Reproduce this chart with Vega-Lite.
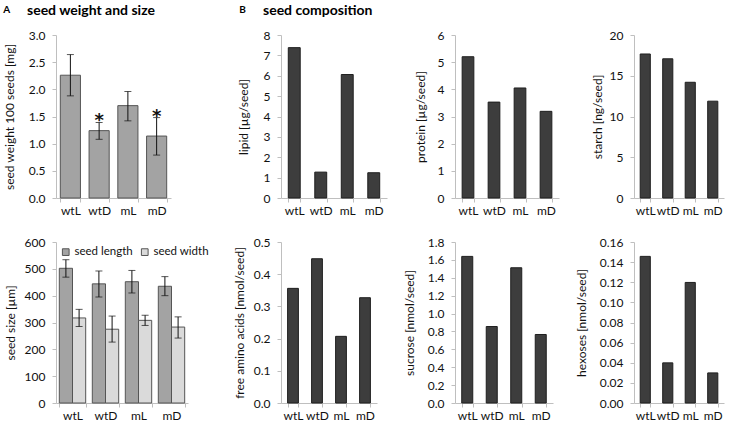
{
  "$schema": "https://vega.github.io/schema/vega-lite/v6.json",
  "padding": {"left": 3, "top": 4, "right": 2, "bottom": 2},
  "background": "white",
  "spacing": 24,
  "hconcat": [
    {
      "title": {"text": "A", "anchor": "start", "frame": "bounds", "fontSize": 10, "offset": 0, "dy": 11},
      "spacing": 20,
      "resolve": {"legend": {"color": "independent"}, "scale": {"color": "independent"}},
      "vconcat": [
        {
          "width": 115,
          "height": 163,
          "title": {"text": "seed weight and size", "anchor": "start", "frame": "group", "dx": -29, "fontSize": 14, "offset": 11},
          "data": {"values": [
            {"g": "wtL", "v": 2.26, "lo": 1.88, "hi": 2.64, "star": ""},
            {"g": "wtD", "v": 1.24, "lo": 1.08, "hi": 1.39, "star": "*"},
            {"g": "mL", "v": 1.70, "lo": 1.42, "hi": 1.96, "star": ""},
            {"g": "mD", "v": 1.14, "lo": 0.79, "hi": 1.48, "star": "*"}
          ]},
          "encoding": {
            "x": {"field": "g", "type": "nominal", "sort": ["wtL", "wtD", "mL", "mD"], "scale": {"paddingInner": 0.3, "paddingOuter": 0.15}, "axis": {"title": null}}
          },
          "layer": [
            {
              "mark": {"type": "bar", "color": "#a3a3a3", "stroke": "#555555", "strokeWidth": 1},
              "encoding": {"y": {"field": "v", "type": "quantitative", "scale": {"domain": [0, 3], "nice": false}, "axis": {"values": [0, 0.5, 1, 1.5, 2, 2.5, 3], "format": ".1f", "title": "seed weight 100 seeds [mg]", "titlePadding": 12}}}
            },
            {
              "mark": {"type": "rule", "color": "#111111", "strokeWidth": 1},
              "encoding": {"y": {"field": "lo", "type": "quantitative", "axis": {"values": [0, 0.5, 1, 1.5, 2, 2.5, 3], "format": ".1f", "title": "seed weight 100 seeds [mg]", "titlePadding": 12}}, "y2": {"field": "hi"}}
            },
            {
              "mark": {"type": "tick", "color": "#111111", "thickness": 1, "size": 7},
              "encoding": {"y": {"field": "lo", "type": "quantitative", "axis": {"values": [0, 0.5, 1, 1.5, 2, 2.5, 3], "format": ".1f", "title": "seed weight 100 seeds [mg]", "titlePadding": 12}}}
            },
            {
              "mark": {"type": "tick", "color": "#111111", "thickness": 1, "size": 7},
              "encoding": {"y": {"field": "hi", "type": "quantitative", "axis": {"values": [0, 0.5, 1, 1.5, 2, 2.5, 3], "format": ".1f", "title": "seed weight 100 seeds [mg]", "titlePadding": 12}}}
            },
            {
              "mark": {"type": "text", "fontSize": 18, "fontWeight": "bold", "baseline": "alphabetic", "dy": 4, "color": "#111111", "font": "DejaVu Sans"},
              "encoding": {"y": {"field": "hi", "type": "quantitative", "axis": {"values": [0, 0.5, 1, 1.5, 2, 2.5, 3], "format": ".1f", "title": "seed weight 100 seeds [mg]", "titlePadding": 12}}, "text": {"field": "star"}}
            }
          ]
        },
        {
          "width": 132,
          "height": 161,
          "data": {"values": [
            {"g": "wtL", "m": "seed length", "v": 502, "lo": 469, "hi": 534},
            {"g": "wtL", "m": "seed width", "v": 317, "lo": 285, "hi": 349},
            {"g": "wtD", "m": "seed length", "v": 444, "lo": 395, "hi": 492},
            {"g": "wtD", "m": "seed width", "v": 275, "lo": 227, "hi": 324},
            {"g": "mL", "m": "seed length", "v": 452, "lo": 410, "hi": 494},
            {"g": "mL", "m": "seed width", "v": 308, "lo": 289, "hi": 327},
            {"g": "mD", "m": "seed length", "v": 435, "lo": 400, "hi": 471},
            {"g": "mD", "m": "seed width", "v": 283, "lo": 242, "hi": 321}
          ]},
          "encoding": {
            "x": {"field": "g", "type": "nominal", "sort": ["wtL", "wtD", "mL", "mD"], "scale": {"paddingInner": 0.2, "paddingOuter": 0.1}, "axis": {"title": null}},
            "xOffset": {"field": "m", "type": "nominal", "scale": {"paddingInner": 0, "paddingOuter": 0}}
          },
          "layer": [
            {
              "mark": {"type": "bar", "stroke": "#555555", "strokeWidth": 1},
              "encoding": {
                "y": {"field": "v", "type": "quantitative", "scale": {"domain": [0, 600], "nice": false}, "axis": {"values": [0, 100, 200, 300, 400, 500, 600], "title": "seed size [µm]", "titlePadding": 7}},
                "color": {"field": "m", "type": "nominal", "scale": {"domain": ["seed length", "seed width"], "range": ["#a3a3a3", "#dadada"]}, "legend": {"title": null, "orient": "top-left", "direction": "horizontal", "offset": 4, "symbolType": "square", "symbolSize": 45, "symbolStrokeColor": "#555555", "symbolStrokeWidth": 1, "labelFontSize": 11.5, "labelFont": "Lato", "labelColor": "#111111", "columnPadding": 6, "labelOffset": 3}}
              }
            },
            {
              "mark": {"type": "rule", "color": "#111111", "strokeWidth": 1},
              "encoding": {"y": {"field": "lo", "type": "quantitative", "axis": {"values": [0, 100, 200, 300, 400, 500, 600], "title": "seed size [µm]", "titlePadding": 7}}, "y2": {"field": "hi"}}
            },
            {
              "mark": {"type": "tick", "color": "#111111", "thickness": 1, "size": 7},
              "encoding": {"y": {"field": "lo", "type": "quantitative", "axis": {"values": [0, 100, 200, 300, 400, 500, 600], "title": "seed size [µm]", "titlePadding": 7}}}
            },
            {
              "mark": {"type": "tick", "color": "#111111", "thickness": 1, "size": 7},
              "encoding": {"y": {"field": "hi", "type": "quantitative", "axis": {"values": [0, 100, 200, 300, 400, 500, 600], "title": "seed size [µm]", "titlePadding": 7}}}
            }
          ]
        }
      ]
    },
    {
      "title": {"text": "B", "anchor": "start", "frame": "bounds", "fontSize": 10, "offset": 0, "dy": 11, "dx": 6},
      "columns": 3,
      "align": "each",
      "spacing": {"row": 20, "column": 16},
      "concat": [
        {
          "width": 106,
          "height": 163,
          "title": {"text": "seed composition", "anchor": "start", "frame": "group", "dx": -18, "fontSize": 14, "offset": 11},
          "data": {"values": [{"g": "wtL", "v": 7.38}, {"g": "wtD", "v": 1.27}, {"g": "mL", "v": 6.06}, {"g": "mD", "v": 1.24}]},
          "mark": {"type": "bar", "color": "#3d3d3d", "stroke": "#1f1f1f", "strokeWidth": 1},
          "encoding": {
            "x": {"field": "g", "type": "nominal", "sort": ["wtL", "wtD", "mL", "mD"], "scale": {"paddingInner": 0.55, "paddingOuter": 0.275}, "axis": {"title": null}},
            "y": {"field": "v", "type": "quantitative", "scale": {"domain": [0, 8], "nice": false}, "axis": {"values": [0, 1, 2, 3, 4, 5, 6, 7, 8], "title": "lipid [µg/seed]", "titlePadding": 13}}
          }
        },
        {
          "width": 104,
          "height": 163,
          "data": {"values": [{"g": "wtL", "v": 5.2}, {"g": "wtD", "v": 3.53}, {"g": "mL", "v": 4.05}, {"g": "mD", "v": 3.19}]},
          "mark": {"type": "bar", "color": "#3d3d3d", "stroke": "#1f1f1f", "strokeWidth": 1},
          "encoding": {
            "x": {"field": "g", "type": "nominal", "sort": ["wtL", "wtD", "mL", "mD"], "scale": {"paddingInner": 0.55, "paddingOuter": 0.275}, "axis": {"title": null}},
            "y": {"field": "v", "type": "quantitative", "scale": {"domain": [0, 6], "nice": false}, "axis": {"values": [0, 1, 2, 3, 4, 5, 6], "title": "protein [µg/seed]", "titlePadding": 10}}
          }
        },
        {
          "width": 90,
          "height": 163,
          "data": {"values": [{"g": "wtL", "v": 17.67}, {"g": "wtD", "v": 17.08}, {"g": "mL", "v": 14.2}, {"g": "mD", "v": 11.88}]},
          "mark": {"type": "bar", "color": "#3d3d3d", "stroke": "#1f1f1f", "strokeWidth": 1},
          "encoding": {
            "x": {"field": "g", "type": "nominal", "sort": ["wtL", "wtD", "mL", "mD"], "scale": {"paddingInner": 0.55, "paddingOuter": 0.275}, "axis": {"title": null}},
            "y": {"field": "v", "type": "quantitative", "scale": {"domain": [0, 20], "nice": false}, "axis": {"values": [0, 5, 10, 15, 20], "title": "starch [ng/seed]", "titlePadding": 5}}
          }
        },
        {
          "width": 96,
          "height": 161,
          "data": {"values": [{"g": "wtL", "v": 0.356}, {"g": "wtD", "v": 0.448}, {"g": "mL", "v": 0.207}, {"g": "mD", "v": 0.327}]},
          "mark": {"type": "bar", "color": "#3d3d3d", "stroke": "#1f1f1f", "strokeWidth": 1},
          "encoding": {
            "x": {"field": "g", "type": "nominal", "sort": ["wtL", "wtD", "mL", "mD"], "scale": {"paddingInner": 0.55, "paddingOuter": 0.275}, "axis": {"title": null}},
            "y": {"field": "v", "type": "quantitative", "scale": {"domain": [0, 0.5], "nice": false}, "axis": {"values": [0, 0.1, 0.2, 0.3, 0.4, 0.5], "format": ".1f", "title": "free amino acids [nmol/seed]", "titlePadding": 7}}
          }
        },
        {
          "width": 98,
          "height": 161,
          "data": {"values": [{"g": "wtL", "v": 1.639}, {"g": "wtD", "v": 0.855}, {"g": "mL", "v": 1.512}, {"g": "mD", "v": 0.766}]},
          "mark": {"type": "bar", "color": "#3d3d3d", "stroke": "#1f1f1f", "strokeWidth": 1},
          "encoding": {
            "x": {"field": "g", "type": "nominal", "sort": ["wtL", "wtD", "mL", "mD"], "scale": {"paddingInner": 0.55, "paddingOuter": 0.275}, "axis": {"title": null}},
            "y": {"field": "v", "type": "quantitative", "scale": {"domain": [0, 1.8], "nice": false}, "axis": {"values": [0, 0.2, 0.4, 0.6, 0.8, 1.0, 1.2, 1.4, 1.6, 1.8], "format": ".1f", "title": "sucrose [nmol/seed]", "titlePadding": 11}}
          }
        },
        {
          "width": 90,
          "height": 161,
          "data": {"values": [{"g": "wtL", "v": 0.1457}, {"g": "wtD", "v": 0.0399}, {"g": "mL", "v": 0.1198}, {"g": "mD", "v": 0.0299}]},
          "mark": {"type": "bar", "color": "#3d3d3d", "stroke": "#1f1f1f", "strokeWidth": 1},
          "encoding": {
            "x": {"field": "g", "type": "nominal", "sort": ["wtL", "wtD", "mL", "mD"], "scale": {"paddingInner": 0.55, "paddingOuter": 0.275}, "axis": {"title": null}},
            "y": {"field": "v", "type": "quantitative", "scale": {"domain": [0, 0.16], "nice": false}, "axis": {"values": [0, 0.02, 0.04, 0.06, 0.08, 0.1, 0.12, 0.14, 0.16], "format": ".2f", "title": "hexoses [nmol/seed]", "titlePadding": 11}}
          }
        }
      ]
    }
  ],
  "config": {
    "font": "Lato",
    "view": {"stroke": null},
    "axis": {"grid": false, "domainColor": "#bfbfbf", "tickColor": "#bfbfbf", "tickSize": 4, "labelFont": "Lato", "labelFontSize": 12, "labelColor": "#111111", "titleFont": "Lato", "titleFontSize": 12, "titleFontWeight": "normal", "titleColor": "#111111"},
    "axisX": {"tickBand": "extent", "labelAngle": 0, "labelPadding": 3},
    "axisY": {"labelPadding": 7},
    "title": {"font": "Lato", "fontWeight": "bold", "color": "#000000"}
  }
}
